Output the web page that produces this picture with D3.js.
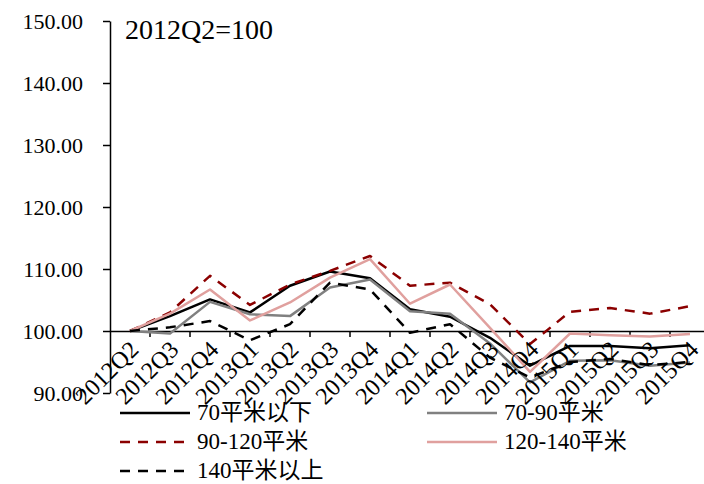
<!DOCTYPE html>
<html>
<head>
<meta charset="utf-8">
<script src="https://cdn.jsdelivr.net/npm/d3@7/dist/d3.min.js"></script>
<style>
  html, body { margin: 0; padding: 0; background: #fff; }
  svg { display: block; }
  text { font-family: "Liberation Serif", "Times New Roman", "Noto Sans CJK SC", serif; fill: #000; }
  .domain, .tick line { stroke: #000; stroke-width: 1.5px; }
</style>
</head>
<body>
<svg id="chart" width="704" height="484"></svg>
<script>
// Quarterly price index by unit size, 2012Q2 = 100
const quarters = ["2012Q2","2012Q3","2012Q4","2013Q1","2013Q2","2013Q3","2013Q4",
                  "2014Q1","2014Q2","2014Q3","2014Q4","2015Q1","2015Q2","2015Q3","2015Q4"];
const under70   = [100, 102.4, 105.1, 103.0, 107.3, 109.6, 108.5, 103.5, 102.3, 98.9, 94.4, 97.6, 97.6, 97.2, 97.7];
const s70to90   = [100, 99.6, 104.7, 102.7, 102.4, 107.0, 108.3, 103.2, 102.8, 98.0, 91.7, 95.2, 95.3, 94.4, 94.9];
const s90to120  = [100, 103.0, 108.9, 104.2, 107.5, 109.7, 112.1, 107.3, 107.8, 104.3, 97.9, 103.1, 103.7, 102.8, 104.0];
const s120to140 = [100, 102.8, 106.7, 101.7, 104.6, 108.6, 111.6, 104.4, 107.5, 100.5, 93.4, 99.6, 99.3, 99.1, 99.5];
const over140   = [100, 100.6, 101.6, 98.5, 101.1, 107.8, 106.7, 99.7, 101.1, 95.7, 92.5, 95.0, 95.5, 94.5, 95.0];
const yTicks    = [90, 100, 110, 120, 130, 140, 150];
const seriesNames = ["70平米以下", "70-90平米", "90-120平米", "120-140平米", "140平米以上"];
const baseLabel = "2012Q2=100";

const series = [
  { name: seriesNames[0], values: under70,   color: "#000000", dash: null },
  { name: seriesNames[1], values: s70to90,   color: "#808080", dash: null },
  { name: seriesNames[2], values: s90to120,  color: "#8b0000", dash: "10,8" },
  { name: seriesNames[3], values: s120to140, color: "#e0a09e", dash: null },
  { name: seriesNames[4], values: over140,   color: "#000000", dash: "10,8" }
];

const svg = d3.select("#chart");
const plotLeft = 110, plotTop = 21, plotBottom = 393, plotRight = 710;

const x = d3.scaleBand().domain(quarters).range([plotLeft, plotRight]);
const y = d3.scaleLinear().domain([90, 150]).range([plotBottom, plotTop]);

// y axis
svg.append("g")
  .attr("transform", `translate(${plotLeft},0)`)
  .call(d3.axisLeft(y).tickValues(yTicks).tickSize(7).tickPadding(20)
        .tickFormat(d3.format(".2f")).tickSizeOuter(0))
  .call(g => g.selectAll("text").style("font-size", "22px").attr("fill", "#000"));

// x axis crosses at 100
const xAxis = svg.append("g")
  .attr("transform", `translate(0,${y(100)})`)
  .call(d3.axisBottom(x).tickSize(0).tickSizeOuter(0).tickFormat(""));
// tick marks at category boundaries
xAxis.selectAll(".bound")
  .data(quarters.slice(1))
  .join("line")
  .attr("x1", d => x(d)).attr("x2", d => x(d))
  .attr("y1", 0).attr("y2", 6)
  .attr("stroke", "#000").attr("stroke-width", 1.5);

// series lines
const line = d3.line()
  .x((d, i) => x(quarters[i]) + x.bandwidth() / 2)
  .y(d => y(d));

svg.append("g").selectAll("path")
  .data(series)
  .join("path")
  .attr("d", d => line(d.values))
  .attr("fill", "none")
  .attr("stroke", d => d.color)
  .attr("stroke-width", 2.5)
  .attr("stroke-dasharray", d => d.dash)
  .attr("stroke-linejoin", "round");

// category labels, rotated
svg.append("g").selectAll("text")
  .data(quarters)
  .join("text")
  .attr("transform", d => `translate(${x(d) + x.bandwidth() / 2 + 4},${y(100) + 14}) rotate(-45)`)
  .attr("text-anchor", "end")
  .attr("dy", "0.35em")
  .style("font-size", "24px")
  .text(d => d);

// base note
svg.append("text")
  .attr("x", 125).attr("y", 39)
  .style("font-size", "28px")
  .text(baseLabel);

// legend
const legendPos = [
  { lx: 120, ly: 413 }, { lx: 427, ly: 413 },
  { lx: 120, ly: 442 }, { lx: 427, ly: 442 },
  { lx: 120, ly: 471 }
];
const lg = svg.append("g").selectAll("g")
  .data(series)
  .join("g")
  .attr("transform", (d, i) => `translate(${legendPos[i].lx},${legendPos[i].ly})`);
lg.append("line")
  .attr("x1", 0).attr("x2", 70)
  .attr("stroke", d => d.color)
  .attr("stroke-width", 2.5)
  .attr("stroke-dasharray", d => d.dash);
lg.append("text")
  .attr("x", 77).attr("dy", "0.3em")
  .style("font-size", "23px")
  .text(d => d.name);
</script>
</body>
</html>
